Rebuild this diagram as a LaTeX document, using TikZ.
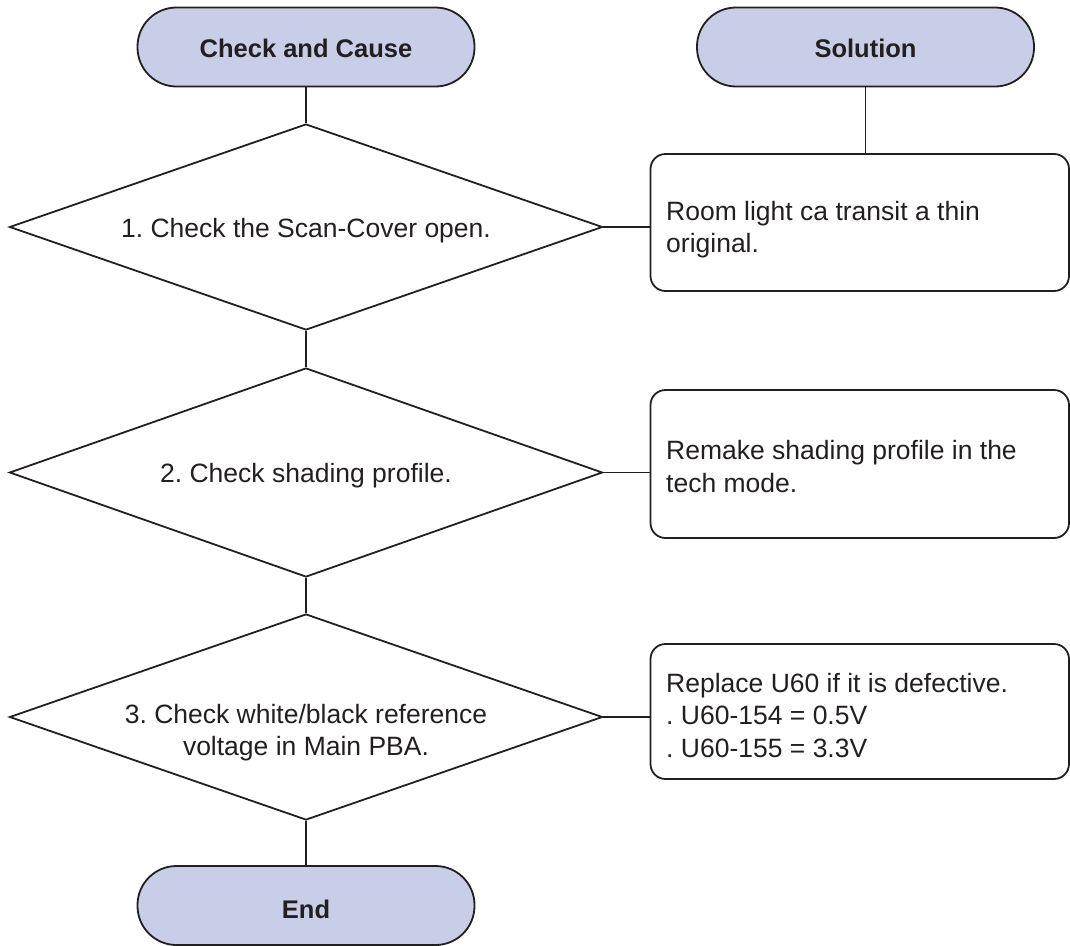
\documentclass[tikz,border=0pt]{standalone}
\usepackage{fontspec}
\setmainfont{Liberation Sans}
\usetikzlibrary{shapes.geometric}
\definecolor{termfill}{HTML}{C9CEE8}
\definecolor{ink}{HTML}{231F20}
\begin{document}
\frenchspacing
\begin{tikzpicture}[x=1pt,y=-1pt,
  every node/.style={text=ink},
  terminal/.style={draw=ink,line width=1.8pt,fill=termfill,rounded corners=39pt,
    minimum width=337pt,minimum height=79pt,inner sep=0pt,
    text height=21pt,text depth=0pt,
    font=\fontsize{25.5}{30}\selectfont\bfseries},
  decision/.style={draw=ink,line width=1.8pt,diamond,aspect=2.88,inner sep=0pt,
    minimum width=593pt,minimum height=206pt},
  dtext/.style={align=center,inner sep=0pt,anchor=base,
    font=\fontsize{26.5}{32}\selectfont},
  solbox/.style={draw=ink,line width=1.8pt,rounded corners=15pt,
    minimum width=418.5pt,minimum height=137pt,inner sep=0pt},
  stext/.style={align=left,inner sep=0pt,anchor=base west,
    font=\fontsize{26.5}{32.5}\selectfont},
  conn/.style={draw=ink,line width=1.8pt}]
\useasboundingbox (0,0) rectangle (1070,945);
\node[terminal] (cc) at (306,47) {Check and Cause};
\node[terminal] (sol) at (865.5,47) {Solution};
\node[decision] (d1) at (306,227) {};
\node[decision,minimum height=209pt] (d2) at (306,472.5) {};
\node[decision] (d3) at (306,717) {};
\node[dtext] (t1) at (306,237.5) {1. Check the Scan-Cover open.};
\node[dtext] (t2) at (306,482.5) {2. Check shading profile.};
\node[dtext] (t3) at (306,755) {3. Check white/black reference\\voltage in Main PBA.};
\node[terminal,text height=25pt] (end) at (306,905.5) {End};
\node[solbox] (b1) at (859.75,222.5) {};
\node[solbox,minimum height=148pt] (b2) at (859.75,464) {};
\node[solbox,minimum height=135pt] (b3) at (859.75,711.5) {};
\node[stext] (s1) at (666,252.5) {Room light ca transit a thin\\original.};
\node[stext] (s2) at (666,492) {Remake shading profile in the\\tech mode.};
\node[stext] (s3) at (666,757) {Replace U60 if it is defective.\\. U60-154 = 0.5V\\. U60-155 = 3.3V};
\draw[conn] (cc.south) -- (d1.north);
\draw[conn] (d1.south) -- (d2.north);
\draw[conn] (d2.south) -- (d3.north);
\draw[conn] (d3.south) -- (end.north);
\draw[conn] (sol.south) -- (b1.north -| sol.south);
\draw[conn] (d1.east) -- (d1.east -| b1.west);
\draw[conn] (d2.east) -- (d2.east -| b2.west);
\draw[conn] (d3.east) -- (d3.east -| b3.west);
\end{tikzpicture}
\end{document}
